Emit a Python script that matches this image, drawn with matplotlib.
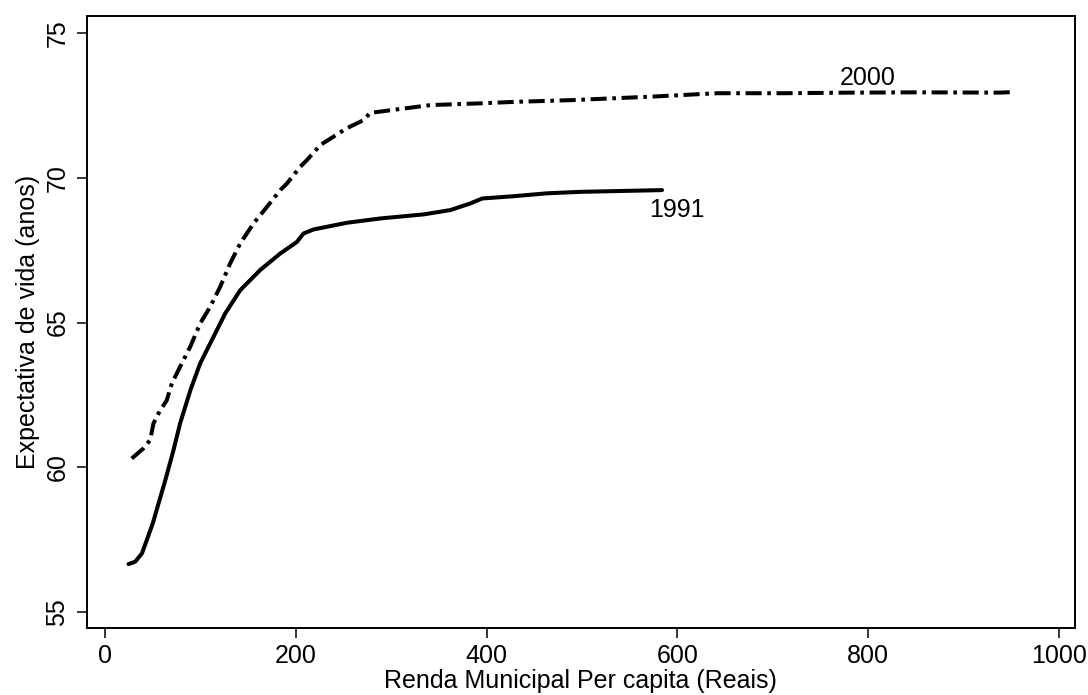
import matplotlib
matplotlib.use("Agg")
import matplotlib.pyplot as plt

plt.rcParams["font.family"] = ["Liberation Sans", "DejaVu Sans"]

# renda municipal per capita (x) e expectativa de vida (y)
renda_1991 = [24.5, 31.5, 38.6, 43.7, 50, 63.7, 66.5, 71.7, 78.6, 89.5, 99.7, 113.7,
              126, 141.7, 162.7, 183.7, 201.2, 208, 218.6, 253.5, 288.6, 334,
              362, 383, 395.4, 428.7, 463.7, 498.6, 584]
vida_1991 = [56.65, 56.73, 57.02, 57.48, 58.06, 59.62, 59.96, 60.59, 61.51, 62.67, 63.59, 64.51,
             65.32, 66.12, 66.82, 67.39, 67.79, 68.08, 68.22, 68.45, 68.60, 68.74,
             68.89, 69.12, 69.29, 69.37, 69.47, 69.52, 69.58]

renda_2000 = [27.9, 40.2, 47.2, 50.7, 56, 64.7, 70, 78.6, 89.2, 99.7, 110.2, 120.7,
              131.2, 141.7, 155.7, 169.7, 183.7, 190.7, 204.7, 211.7, 225.7, 253.5,
              271, 278, 306, 341.3, 393.6, 428.7, 488.5, 572, 642, 712, 782, 852,
              937.6, 954]
vida_2000 = [60.30, 60.65, 60.94, 61.51, 61.86, 62.32, 62.90, 63.47, 64.16, 64.97, 65.55, 66.24,
             67.05, 67.74, 68.43, 69.0, 69.58, 69.81, 70.39, 70.62, 71.14, 71.72,
             72.0, 72.25, 72.37, 72.52, 72.58, 72.63, 72.69, 72.81, 72.93, 72.93, 72.95, 72.96,
             72.95, 72.97]

xticks = [0, 200, 400, 600, 800, 1000]
yticks = [55, 60, 65, 70, 75]

fig = plt.figure(figsize=(10.88, 6.95), dpi=100)
ax = fig.add_axes([0.0797, 0.0968, 0.9083, 0.8802])

ax.plot(renda_1991, vida_1991, color="black", lw=2.9, solid_capstyle="round")
ax.plot(renda_2000, vida_2000, color="black", lw=2.9,
        linestyle=(0, (4.0, 1.4, 0.9, 1.4)))

ax.text(600, 68.9, "1991", fontsize=18, ha="center", va="center")
ax.text(800, 73.45, "2000", fontsize=18, ha="center", va="center")

ax.set_xlim(-19.3, 1017)
ax.set_ylim(54.45, 75.6)
ax.set_xticks(xticks)
ax.set_yticks(yticks)
ax.tick_params(axis="both", direction="out", length=7.5, width=1.1, labelsize=18)
ax.tick_params(axis="x", pad=4.5)
ax.tick_params(axis="y", pad=5)
for lbl in ax.get_yticklabels():
    lbl.set_rotation(90)
    lbl.set_va("center")

for sp in ax.spines.values():
    sp.set_linewidth(1.4)

ax.set_xlabel("Renda Municipal Per capita (Reais)", fontsize=18, labelpad=0.5)
ax.set_ylabel("Expectativa de vida (anos)", fontsize=18, labelpad=4)

fig.savefig("out.png", dpi=100)
